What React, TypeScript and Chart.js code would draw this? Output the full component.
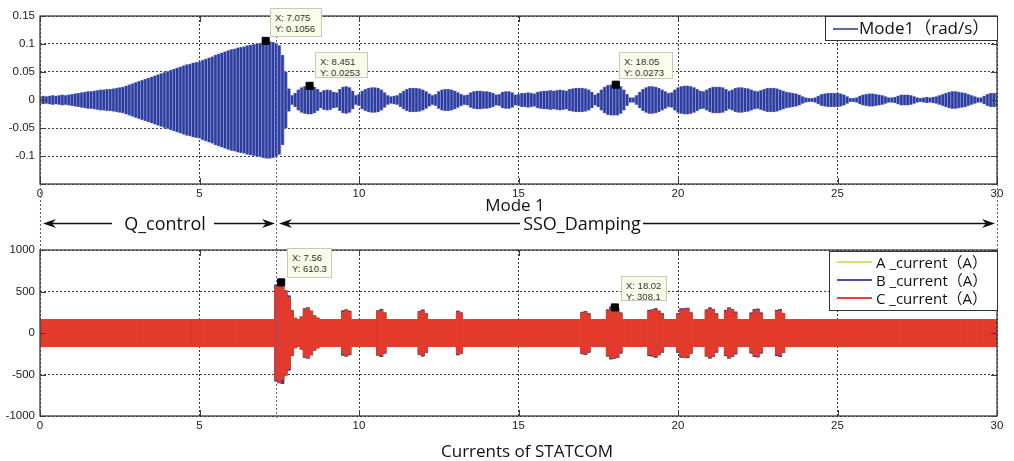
import React, { useEffect, useRef } from 'react';
import { Chart, registerables } from 'chart.js';

Chart.register(...registerables);

// ---- sampling grid of the recorded envelopes (seconds) ----
const T_START = 0;
const T_STEP = 0.1;

// ---- axis ticks ----
const X_TICKS = [0, 5, 10, 15, 20, 25, 30];
const MODE_Y_TICKS = [-0.15, -0.1, -0.05, 0, 0.05, 0.1, 0.15];
const CURRENT_Y_TICKS = [-1000, -500, 0, 500, 1000];

// ---- Mode 1 oscillation amplitude (rad/s), one value per 0.1 s, 0..30 s ----
const MODE1_AMPLITUDE = [
  0.006, 0.007, 0.006, 0.007, 0.008, 0.007, 0.008, 0.009, 0.008, 0.009,
  0.010, 0.011, 0.012, 0.013, 0.014, 0.015, 0.015, 0.016, 0.017, 0.018,
  0.018, 0.019, 0.019, 0.020, 0.021, 0.022, 0.023, 0.025, 0.027, 0.029,
  0.031, 0.033, 0.035, 0.037, 0.039, 0.041, 0.043, 0.045, 0.047, 0.049,
  0.051, 0.053, 0.055, 0.057, 0.059, 0.061, 0.063, 0.064, 0.066, 0.067,
  0.068, 0.071, 0.073, 0.075, 0.077, 0.080, 0.082, 0.084, 0.086, 0.088,
  0.090, 0.091, 0.093, 0.094, 0.095, 0.097, 0.098, 0.099, 0.100, 0.101,
  0.103, 0.104, 0.104, 0.103, 0.101, 0.097, 0.080, 0.050, 0.020, 0.008,
  0.012, 0.018, 0.022, 0.024, 0.025, 0.025, 0.023, 0.019, 0.014, 0.017,
  0.018, 0.017, 0.014, 0.013, 0.019, 0.023, 0.024, 0.022, 0.016, 0.008,
  0.010, 0.016, 0.019, 0.021, 0.022, 0.022, 0.021, 0.018, 0.013, 0.008,
  0.006, 0.007, 0.008, 0.012, 0.016, 0.019, 0.021, 0.021, 0.021, 0.020,
  0.018, 0.015, 0.011, 0.008, 0.010, 0.015, 0.018, 0.019, 0.019, 0.018,
  0.016, 0.013, 0.010, 0.008, 0.009, 0.013, 0.015, 0.016, 0.016, 0.015,
  0.015, 0.014, 0.012, 0.009, 0.010, 0.014, 0.015, 0.015, 0.013, 0.009,
  0.010, 0.012, 0.012, 0.013, 0.012, 0.011, 0.014, 0.015, 0.016, 0.016,
  0.017, 0.016, 0.017, 0.018, 0.017, 0.016, 0.019, 0.020, 0.021, 0.021,
  0.021, 0.020, 0.018, 0.014, 0.009, 0.012, 0.018, 0.023, 0.026, 0.027,
  0.027, 0.027, 0.024, 0.018, 0.010, 0.004, 0.004, 0.008, 0.014, 0.019,
  0.022, 0.024, 0.024, 0.023, 0.021, 0.018, 0.015, 0.012, 0.013, 0.018,
  0.022, 0.024, 0.025, 0.025, 0.024, 0.022, 0.019, 0.016, 0.015, 0.018,
  0.021, 0.023, 0.023, 0.023, 0.022, 0.019, 0.016, 0.018, 0.021, 0.022,
  0.022, 0.021, 0.020, 0.018, 0.016, 0.015, 0.017, 0.019, 0.021, 0.021,
  0.021, 0.020, 0.018, 0.016, 0.014, 0.013, 0.012, 0.011, 0.009, 0.006,
  0.004, 0.003, 0.003, 0.004, 0.007, 0.010, 0.011, 0.012, 0.012, 0.012,
  0.012, 0.011, 0.009, 0.006, 0.003, 0.003, 0.004, 0.007, 0.009, 0.010,
  0.011, 0.011, 0.010, 0.009, 0.008, 0.006, 0.004, 0.004, 0.005, 0.007,
  0.009, 0.009, 0.009, 0.008, 0.006, 0.004, 0.003, 0.004, 0.005, 0.004,
  0.005, 0.006, 0.008, 0.010, 0.012, 0.014, 0.015, 0.015, 0.014, 0.013,
  0.012, 0.010, 0.008, 0.006, 0.004, 0.004, 0.007, 0.010, 0.012, 0.012,
  0.012,
];

// ---- STATCOM phase current amplitude (A), one value per 0.1 s, 0..30 s ----
const CURRENT_A_AMPLITUDE = [
  165, 165, 165, 165, 165, 165, 165, 165, 165, 165,
  165, 165, 165, 165, 165, 165, 165, 165, 165, 165,
  165, 165, 165, 165, 165, 165, 165, 165, 165, 165,
  165, 165, 165, 165, 165, 165, 165, 165, 165, 165,
  165, 165, 165, 165, 165, 165, 165, 165, 165, 165,
  165, 165, 165, 165, 165, 165, 165, 165, 165, 165,
  165, 165, 165, 165, 165, 165, 165, 165, 165, 165,
  165, 165, 165, 165, 540, 610, 580, 520, 440, 280,
  185, 165, 200, 290, 310, 270, 205, 185, 165, 165,
  165, 165, 165, 165, 165, 265, 285, 260, 165, 165,
  165, 165, 165, 165, 165, 165, 275, 280, 250, 165,
  165, 165, 165, 165, 165, 165, 165, 165, 165, 265,
  275, 240, 165, 165, 165, 165, 165, 165, 165, 165,
  165, 260, 250, 165, 165, 165, 165, 165, 165, 165,
  165, 165, 165, 165, 165, 165, 165, 165, 165, 165,
  165, 165, 165, 165, 165, 165, 165, 165, 165, 165,
  165, 165, 165, 165, 165, 165, 165, 165, 165, 165,
  255, 265, 230, 165, 165, 165, 165, 165, 285, 310,
  305, 300, 240, 165, 165, 165, 165, 165, 165, 165,
  165, 270, 285, 290, 270, 230, 165, 165, 165, 165,
  230, 290, 300, 290, 250, 165, 165, 165, 165, 285,
  300, 290, 230, 165, 165, 270, 300, 290, 250, 165,
  165, 165, 165, 240, 280, 290, 240, 165, 165, 165,
  165, 270, 280, 240, 165, 165, 165, 165, 165, 165,
  165, 165, 165, 165, 165, 165, 165, 165, 165, 165,
  165, 165, 165, 165, 165, 165, 165, 165, 165, 165,
  165, 165, 165, 165, 165, 165, 165, 165, 165, 165,
  165, 165, 165, 165, 165, 165, 165, 165, 165, 165,
  165, 165, 165, 165, 165, 165, 165, 165, 165, 165,
  165, 165, 165, 165, 165, 165, 165, 165, 165, 165,
  165,
];

const CURRENT_B_AMPLITUDE = [
  165, 165, 165, 165, 165, 165, 165, 165, 165, 165,
  165, 165, 165, 165, 165, 165, 165, 165, 165, 165,
  165, 165, 165, 165, 165, 165, 165, 165, 165, 165,
  165, 165, 165, 165, 165, 165, 165, 165, 165, 165,
  165, 165, 165, 165, 165, 165, 165, 165, 165, 165,
  165, 165, 165, 165, 165, 165, 165, 165, 165, 165,
  165, 165, 165, 165, 165, 165, 165, 165, 165, 165,
  165, 165, 165, 165, 580, 590, 610, 510, 450, 270,
  175, 165, 195, 295, 305, 265, 210, 180, 165, 165,
  165, 165, 165, 165, 165, 270, 280, 265, 165, 165,
  165, 165, 165, 165, 165, 165, 270, 285, 245, 165,
  165, 165, 165, 165, 165, 165, 165, 165, 165, 260,
  280, 235, 165, 165, 165, 165, 165, 165, 165, 165,
  165, 265, 245, 165, 165, 165, 165, 165, 165, 165,
  165, 165, 165, 165, 165, 165, 165, 165, 165, 165,
  165, 165, 165, 165, 165, 165, 165, 165, 165, 165,
  165, 165, 165, 165, 165, 165, 165, 165, 165, 165,
  250, 260, 235, 165, 165, 165, 165, 165, 280, 315,
  308, 295, 245, 165, 165, 165, 165, 165, 165, 165,
  165, 275, 280, 295, 265, 235, 165, 165, 165, 165,
  235, 295, 295, 300, 245, 165, 165, 165, 165, 280,
  305, 285, 235, 165, 165, 275, 305, 285, 255, 165,
  165, 165, 165, 245, 285, 290, 245, 165, 165, 165,
  165, 275, 285, 235, 165, 165, 165, 165, 165, 165,
  165, 165, 165, 165, 165, 165, 165, 165, 165, 165,
  165, 165, 165, 165, 165, 165, 165, 165, 165, 165,
  165, 165, 165, 165, 165, 165, 165, 165, 165, 165,
  165, 165, 165, 165, 165, 165, 165, 165, 165, 165,
  165, 165, 165, 165, 165, 165, 165, 165, 165, 165,
  165, 165, 165, 165, 165, 165, 165, 165, 165, 165,
  165,
];

const CURRENT_C_AMPLITUDE = [
  165, 165, 165, 165, 165, 165, 165, 165, 165, 165,
  165, 165, 165, 165, 165, 165, 165, 165, 165, 165,
  165, 165, 165, 165, 165, 165, 165, 165, 165, 165,
  165, 165, 165, 165, 165, 165, 165, 165, 165, 165,
  165, 165, 165, 165, 165, 165, 165, 165, 165, 165,
  165, 165, 165, 165, 165, 165, 165, 165, 165, 165,
  165, 165, 165, 165, 165, 165, 165, 165, 165, 165,
  165, 165, 165, 165, 560, 600, 560, 500, 430, 260,
  180, 165, 190, 280, 300, 260, 200, 180, 165, 165,
  165, 165, 165, 165, 165, 250, 275, 250, 165, 165,
  165, 165, 165, 165, 165, 165, 260, 270, 240, 165,
  165, 165, 165, 165, 165, 165, 165, 165, 165, 250,
  265, 230, 165, 165, 165, 165, 165, 165, 165, 165,
  165, 250, 240, 165, 165, 165, 165, 165, 165, 165,
  165, 165, 165, 165, 165, 165, 165, 165, 165, 165,
  165, 165, 165, 165, 165, 165, 165, 165, 165, 165,
  165, 165, 165, 165, 165, 165, 165, 165, 165, 165,
  240, 250, 220, 165, 165, 165, 165, 165, 270, 300,
  300, 290, 230, 165, 165, 165, 165, 165, 165, 165,
  165, 260, 270, 280, 260, 220, 165, 165, 165, 165,
  220, 280, 290, 285, 240, 165, 165, 165, 165, 270,
  290, 280, 220, 165, 165, 260, 290, 280, 240, 165,
  165, 165, 165, 230, 270, 280, 230, 165, 165, 165,
  165, 260, 270, 230, 165, 165, 165, 165, 165, 165,
  165, 165, 165, 165, 165, 165, 165, 165, 165, 165,
  165, 165, 165, 165, 165, 165, 165, 165, 165, 165,
  165, 165, 165, 165, 165, 165, 165, 165, 165, 165,
  165, 165, 165, 165, 165, 165, 165, 165, 165, 165,
  165, 165, 165, 165, 165, 165, 165, 165, 165, 165,
  165, 165, 165, 165, 165, 165, 165, 165, 165, 165,
  165,
];

// ---- data tips ----
const MODE1_TIP_X = [7.075, 8.451, 18.05];
const MODE1_TIP_Y = [0.1056, 0.0253, 0.0273];
const CURRENT_TIP_X = [7.56, 18.02];
const CURRENT_TIP_Y = [610.3, 308.1];

// ---- labels ----
const MODE_TITLE = 'Mode 1';
const CURRENT_TITLE = 'Currents of STATCOM';
const MODE_LEGEND = 'Mode1（rad/s）';
const CURRENT_LEGENDS = ['A _current（A）', 'B _current（A）', 'C _current（A）'];
const PHASE_LABELS = ['Q_control', 'SSO_Damping'];

// ---- styling ----
const FONT = "'Liberation Sans', Arial, sans-serif";
const TITLE_FONT = "'Open Sans', 'Noto Sans CJK SC', sans-serif";
const MODE_DARK = '#2c3c9d';
const MODE_LIGHT = '#8b93d4';
const MODE_LEGEND_LINE = '#5d66b8';
const COLOR_A = '#e6dc55';
const COLOR_B = '#3f3f98';
const COLOR_C = '#e23b2c';
const LEGEND_A = '#d6e26a';
const LEGEND_B = '#4d4d9e';
const LEGEND_C = '#e0463a';

const toBars = (amp: number[]) =>
  amp.map((a, i) => ({ x: +(T_START + i * T_STEP).toFixed(1), y: [-a, a] }));

const fmtMode = (v: number) => {
  if (Math.abs(v + 0.15) < 1e-9) return '';
  return String(parseFloat(v.toFixed(2)));
};

const boxPlugin = {
  id: 'matlabBox',
  afterDraw(chart: any) {
    const { ctx, chartArea } = chart;
    const { left, right, top, bottom } = chartArea;
    const xs = chart.scales.x;
    const ys = chart.scales.y;
    ctx.save();
    ctx.setLineDash([]);
    ctx.strokeStyle = '#3c3c3c';
    ctx.lineWidth = 1.3;
    ctx.strokeRect(left, top, right - left, bottom - top);
    ctx.lineWidth = 1;
    ctx.beginPath();
    xs.ticks.forEach((t: any) => {
      const px = Math.round(xs.getPixelForValue(t.value)) + 0.5;
      ctx.moveTo(px, bottom);
      ctx.lineTo(px, bottom - 6);
      ctx.moveTo(px, top);
      ctx.lineTo(px, top + 6);
    });
    ys.ticks.forEach((t: any) => {
      const py = Math.round(ys.getPixelForValue(t.value)) + 0.5;
      ctx.moveTo(left, py);
      ctx.lineTo(left + 6, py);
      ctx.moveTo(right, py);
      ctx.lineTo(right - 6, py);
    });
    ctx.stroke();
    ctx.restore();
  },
};

const gridOpts = { color: '#3a3a3a', lineWidth: 1, drawTicks: false, offset: false };
const borderOpts = { display: false, dash: [2, 2] };
const tickFont = { family: FONT, size: 11.5 };

function xScale(height: number) {
  return {
    type: 'linear',
    min: 0,
    max: 30,
    stacked: true,
    offset: false,
    afterBuildTicks: (s: any) => {
      s.ticks = X_TICKS.map((v) => ({ value: v }));
    },
    afterFit: (s: any) => {
      s.height = height;
    },
    grid: gridOpts,
    border: borderOpts,
    ticks: { padding: 3, color: '#222', font: tickFont, maxRotation: 0, autoSkip: false },
  };
}

function makeModeChart(canvas: HTMLCanvasElement) {
  const bars = toBars(MODE1_AMPLITUDE);
  const tips = MODE1_TIP_X.map((x, i) => ({ x, y: MODE1_TIP_Y[i] }));
  return new Chart(canvas, {
    type: 'bar',
    data: {
      datasets: [
        {
          type: 'line',
          label: 'tips',
          data: tips,
          showLine: false,
          pointStyle: 'rect',
          pointRadius: 5,
          pointBackgroundColor: '#000',
          pointBorderColor: '#000',
          order: 0,
        } as any,
        {
          type: 'bar',
          label: 'Mode1',
          data: bars,
          backgroundColor: MODE_DARK,
          barPercentage: 0.72,
          categoryPercentage: 1,
          order: 1,
        } as any,
        {
          type: 'bar',
          label: 'Mode1 envelope',
          data: bars,
          backgroundColor: MODE_LIGHT,
          barPercentage: 1,
          categoryPercentage: 1,
          order: 2,
        } as any,
      ],
    },
    options: {
      animation: false,
      responsive: false,
      events: [],
      layout: { padding: { top: 16, right: 17, left: 0, bottom: 0 }, autoPadding: false },
      plugins: { legend: { display: false }, tooltip: { enabled: false } },
      scales: {
        x: xScale(16) as any,
        y: {
          type: 'linear',
          min: -0.15,
          max: 0.15,
          stacked: false,
          afterBuildTicks: (s: any) => {
            s.ticks = MODE_Y_TICKS.map((v) => ({ value: v }));
          },
          afterFit: (s: any) => {
            s.width = 40;
          },
          grid: gridOpts,
          border: borderOpts,
          ticks: {
            padding: 5,
            color: '#222',
            font: tickFont,
            callback: (v: any) => fmtMode(Number(v)),
          },
        } as any,
      },
    },
    plugins: [boxPlugin],
  } as any);
}

function makeCurrentChart(canvas: HTMLCanvasElement) {
  const tips = CURRENT_TIP_X.map((x, i) => ({ x, y: CURRENT_TIP_Y[i] }));
  return new Chart(canvas, {
    type: 'bar',
    data: {
      datasets: [
        {
          type: 'line',
          label: 'tips',
          data: tips,
          showLine: false,
          pointStyle: 'rect',
          pointRadius: 5,
          pointBackgroundColor: '#000',
          pointBorderColor: '#000',
          order: 0,
        } as any,
        {
          type: 'bar',
          label: CURRENT_LEGENDS[2],
          data: toBars(CURRENT_C_AMPLITUDE),
          backgroundColor: COLOR_C,
          barPercentage: 1,
          categoryPercentage: 1,
          order: 1,
        } as any,
        {
          type: 'bar',
          label: CURRENT_LEGENDS[1],
          data: toBars(CURRENT_B_AMPLITUDE),
          backgroundColor: COLOR_B,
          barPercentage: 1,
          categoryPercentage: 1,
          order: 2,
        } as any,
        {
          type: 'bar',
          label: CURRENT_LEGENDS[0],
          data: toBars(CURRENT_A_AMPLITUDE),
          backgroundColor: COLOR_A,
          barPercentage: 1,
          categoryPercentage: 1,
          order: 3,
        } as any,
      ],
    },
    options: {
      animation: false,
      responsive: false,
      events: [],
      layout: { padding: { top: 16, right: 17, left: 0, bottom: 0 }, autoPadding: false },
      plugins: { legend: { display: false }, tooltip: { enabled: false } },
      scales: {
        x: xScale(18) as any,
        y: {
          type: 'linear',
          min: -1000,
          max: 1000,
          stacked: false,
          afterBuildTicks: (s: any) => {
            s.ticks = CURRENT_Y_TICKS.map((v) => ({ value: v }));
          },
          afterFit: (s: any) => {
            s.width = 40;
          },
          grid: gridOpts,
          border: borderOpts,
          ticks: {
            padding: 5,
            color: '#222',
            font: tickFont,
            callback: (v: any) => String(Number(v)),
          },
        } as any,
      },
    },
    plugins: [boxPlugin],
  } as any);
}

const tipBox = (left: number, top: number, w: number, h: number): React.CSSProperties => ({
  position: 'absolute',
  left,
  top,
  width: w,
  height: h,
  boxSizing: 'border-box',
  background: '#fbfbea',
  border: '1px solid #c9c9b6',
  font: `9.5px ${FONT}`,
  color: '#333',
  lineHeight: '11px',
  padding: '3px 0 0 4px',
  whiteSpace: 'nowrap',
});

const TIP_BOX_LAYOUT = [
  [270, 8, 52, 29],
  [315, 52, 53, 26],
  [619, 52, 54, 27],
  [287, 248, 45, 30],
  [621, 276, 46, 25],
];

function Arrow({ x, y, dir }: { x: number; y: number; dir: 1 | -1 }) {
  const d = -dir;
  const pts = `${x},${y} ${x + d * 13},${y - 4.5} ${x + d * 9},${y} ${x + d * 13},${y + 4.5}`;
  return <polygon points={pts} fill="#111" />;
}

export default function App() {
  const topRef = useRef<HTMLCanvasElement>(null);
  const botRef = useRef<HTMLCanvasElement>(null);

  useEffect(() => {
    document.body.style.margin = '0';
    const c1 = makeModeChart(topRef.current as HTMLCanvasElement);
    const c2 = makeCurrentChart(botRef.current as HTMLCanvasElement);
    return () => {
      c1.destroy();
      c2.destroy();
    };
  }, []);

  const tipTexts = [
    ...MODE1_TIP_X.map((x, i) => [`X: ${x}`, `Y: ${MODE1_TIP_Y[i]}`]),
    ...CURRENT_TIP_X.map((x, i) => [`X: ${x}`, `Y: ${CURRENT_TIP_Y[i]}`]),
  ];

  return (
    <div style={{ position: 'relative', width: 1014, height: 461, background: '#fff', overflow: 'hidden' }}>
      <canvas
        ref={topRef}
        width={1014}
        height={200}
        style={{ position: 'absolute', left: 0, top: 0, width: 1014, height: 200 }}
      />
      <canvas
        ref={botRef}
        width={1014}
        height={200}
        style={{ position: 'absolute', left: 0, top: 234, width: 1014, height: 200 }}
      />

      <svg
        width={1014}
        height={461}
        style={{ position: 'absolute', left: 0, top: 0, pointerEvents: 'none' }}
      >
        <g stroke="#5a5ab4" strokeWidth={1} strokeDasharray="2,2" fill="none">
          <line x1={40.5} y1={184} x2={40.5} y2={250} />
          <line x1={276.5} y1={36} x2={276.5} y2={418} />
          <line x1={997.5} y1={184} x2={997.5} y2={250} />
        </g>
        <g stroke="#111" strokeWidth={1.3}>
          <line x1={50} y1={223.5} x2={112} y2={223.5} />
          <line x1={214} y1={223.5} x2={268} y2={223.5} />
          <line x1={286} y1={223.5} x2={520} y2={223.5} />
          <line x1={643} y1={223.5} x2={988} y2={223.5} />
        </g>
        <Arrow x={43} y={223.5} dir={-1} />
        <Arrow x={275} y={223.5} dir={1} />
        <Arrow x={279} y={223.5} dir={-1} />
        <Arrow x={995} y={223.5} dir={1} />
      </svg>

      <div
        style={{
          position: 'absolute',
          left: 415,
          top: 195,
          width: 200,
          textAlign: 'center',
          font: `500 17px ${TITLE_FONT}`,
          color: '#111',
          lineHeight: '20px',
        }}
      >
        {MODE_TITLE}
      </div>
      <div
        style={{
          position: 'absolute',
          left: 115,
          top: 212,
          width: 100,
          textAlign: 'center',
          font: `18px ${TITLE_FONT}`,
          color: '#111',
          lineHeight: '22px',
        }}
      >
        {PHASE_LABELS[0]}
      </div>
      <div
        style={{
          position: 'absolute',
          left: 521,
          top: 212,
          width: 122,
          textAlign: 'center',
          font: `18px ${TITLE_FONT}`,
          color: '#111',
          lineHeight: '22px',
        }}
      >
        {PHASE_LABELS[1]}
      </div>
      <div
        style={{
          position: 'absolute',
          left: 377,
          top: 440,
          width: 300,
          textAlign: 'center',
          font: `17px ${TITLE_FONT}`,
          color: '#111',
          lineHeight: '22px',
        }}
      >
        {CURRENT_TITLE}
      </div>

      {/* legend, top */}
      <div
        style={{
          position: 'absolute',
          left: 825,
          top: 16,
          width: 173,
          height: 25,
          boxSizing: 'border-box',
          border: '1px solid #333',
          background: '#fff',
        }}
      >
        <div style={{ position: 'absolute', left: 7, top: 11, width: 25, height: 2, background: MODE_LEGEND_LINE }} />
        <div
          style={{
            position: 'absolute',
            left: 33,
            top: 0,
            font: `17px ${TITLE_FONT}`,
            lineHeight: '22px',
            color: '#111',
            whiteSpace: 'nowrap',
          }}
        >
          {MODE_LEGEND}
        </div>
      </div>

      {/* legend, bottom */}
      <div
        style={{
          position: 'absolute',
          left: 829,
          top: 251,
          width: 169,
          height: 60,
          boxSizing: 'border-box',
          border: '1px solid #333',
          background: '#fff',
        }}
      >
        {[LEGEND_A, LEGEND_B, LEGEND_C].map((c, i) => (
          <React.Fragment key={i}>
            <div
              style={{
                position: 'absolute',
                left: 7,
                top: 9 + i * 18,
                width: 35,
                height: 2,
                background: c,
              }}
            />
            <div
              style={{
                position: 'absolute',
                left: 46,
                top: i * 18,
                font: `15px ${TITLE_FONT}`,
                lineHeight: '20px',
                color: '#111',
                whiteSpace: 'nowrap',
              }}
            >
              {CURRENT_LEGENDS[i]}
            </div>
          </React.Fragment>
        ))}
      </div>

      {tipTexts.map((lines, i) => {
        const [l, t, w, h] = TIP_BOX_LAYOUT[i];
        return (
          <div key={i} style={tipBox(l, t, w, h)}>
            <div>{lines[0]}</div>
            <div>{lines[1]}</div>
          </div>
        );
      })}
    </div>
  );
}
